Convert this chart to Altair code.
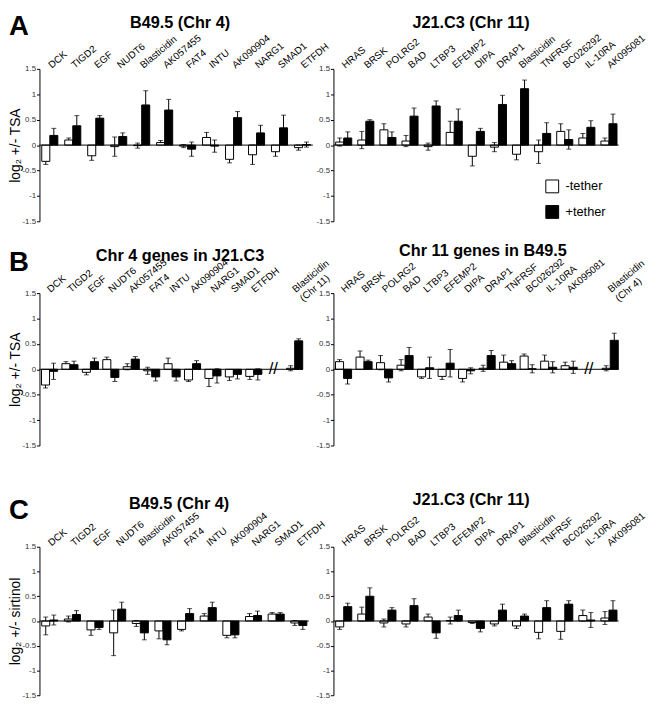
import altair as alt
import pandas as pd

FONT = "Liberation Sans"
TETHER = ["-tether", "+tether"]
YTICKS = [-1.5, -1, -0.5, 0, 0.5, 1, 1.5]

# ---- Panel A (TSA), B49.5 (Chr 4)
a_left_genes = ["DCK", "TIGD2", "EGF", "NUDT6", "Blasticidin", "AK057455", "FAT4", "INTU",
                "AK090904", "NARG1", "SMAD1", "ETFDH"]
a_left_minus = [-0.32, 0.10, -0.21, -0.03, -0.01, 0.05, -0.02, 0.15, -0.28, -0.19, -0.13, -0.05]
a_left_minus_err = [0.06, 0.04, 0.09, 0.19, 0.05, 0.04, 0.03, 0.10, 0.07, 0.19, 0.09, 0.05]
a_left_plus = [0.19, 0.38, 0.53, 0.17, 0.79, 0.69, -0.08, -0.02, 0.54, 0.24, 0.34, 0.01]
a_left_plus_err = [0.14, 0.20, 0.05, 0.07, 0.28, 0.21, 0.14, 0.12, 0.12, 0.15, 0.25, 0.05]

# ---- Panel A (TSA), J21.C3 (Chr 11)
a_right_genes = ["HRAS", "BRSK", "POLRG2", "BAD", "LTBP3", "EFEMP2", "DIPA", "DRAP1",
                 "Blasticidin", "TNFRSF", "BC026292", "IL-10RA", "AK095081"]
a_right_minus = [0.06, 0.10, 0.30, 0.08, -0.03, 0.25, -0.22, -0.04, -0.18, -0.13, 0.27, 0.14, 0.08]
a_right_minus_err = [0.08, 0.17, 0.12, 0.11, 0.07, 0.22, 0.19, 0.09, 0.11, 0.23, 0.15, 0.09, 0.06]
a_right_plus = [0.14, 0.47, 0.15, 0.57, 0.77, 0.47, 0.27, 0.80, 1.11, 0.23, 0.11, 0.35, 0.42]
a_right_plus_err = [0.12, 0.03, 0.11, 0.16, 0.10, 0.24, 0.06, 0.18, 0.17, 0.21, 0.19, 0.13, 0.19]

# ---- Panel B, Chr 4 genes in J21.C3
b_left_genes = ["DCK", "TIGD2", "EGF", "NUDT6", "AK057455", "FAT4", "INTU", "AK090904",
                "NARG1", "SMAD1", "ETFDH", "Blasticidin|(Chr 11)"]
b_left_minus = [-0.31, 0.11, -0.06, 0.19, 0.05, -0.03, 0.11, -0.21, -0.18, -0.15, -0.14, 0.02]
b_left_minus_err = [0.06, 0.04, 0.05, 0.05, 0.06, 0.07, 0.11, 0.03, 0.16, 0.07, 0.06, 0.05]
b_left_plus = [-0.04, 0.09, 0.15, -0.16, 0.20, -0.15, -0.15, 0.11, -0.13, -0.10, -0.10, 0.56]
b_left_plus_err = [0.16, 0.07, 0.07, 0.08, 0.05, 0.08, 0.08, 0.06, 0.14, 0.09, 0.11, 0.04]

# ---- Panel B, Chr 11 genes in B49.5
b_right_genes = ["HRAS", "BRSK", "POLRG2", "BAD", "LTBP3", "EFEMP2", "DIPA", "DRAP1",
                 "TNFRSF", "BC026292", "IL-10RA", "AK095081", "Blasticidin|(Chr 4)"]
b_right_minus = [0.15, 0.24, 0.13, 0.08, -0.15, -0.14, -0.18, 0.02, 0.14, 0.26, 0.16, 0.07, 0.02]
b_right_minus_err = [0.04, 0.12, 0.14, 0.11, 0.03, 0.06, 0.07, 0.06, 0.14, 0.04, 0.12, 0.07, 0.05]
b_right_plus = [-0.18, 0.15, -0.17, 0.27, 0.03, 0.12, -0.03, 0.27, 0.11, 0.01, 0.04, 0.04, 0.57]
b_right_plus_err = [0.11, 0.03, 0.08, 0.16, 0.21, 0.27, 0.06, 0.10, 0.06, 0.08, 0.11, 0.12, 0.14]

# ---- Panel C (sirtinol), B49.5 (Chr 4)
c_left_genes = a_left_genes
c_left_minus = [-0.10, 0.04, -0.18, -0.24, -0.05, -0.20, -0.17, 0.10, -0.29, 0.09, 0.14, -0.04]
c_left_minus_err = [0.18, 0.06, 0.11, 0.46, 0.06, 0.16, 0.03, 0.05, 0.05, 0.06, 0.03, 0.05]
c_left_plus = [0.02, 0.13, -0.13, 0.24, -0.24, -0.38, 0.15, 0.27, -0.28, 0.11, 0.14, -0.09]
c_left_plus_err = [0.10, 0.08, 0.04, 0.14, 0.14, 0.10, 0.10, 0.11, 0.06, 0.09, 0.03, 0.08]

# ---- Panel C (sirtinol), J21.C3 (Chr 11)
c_right_genes = a_right_genes
c_right_minus = [-0.12, 0.14, -0.04, -0.06, 0.08, 0.01, -0.03, -0.06, -0.10, -0.23, -0.21, 0.11, 0.06]
c_right_minus_err = [0.05, 0.14, 0.08, 0.06, 0.06, 0.07, 0.02, 0.04, 0.05, 0.13, 0.16, 0.11, 0.13]
c_right_plus = [0.29, 0.50, 0.22, 0.31, -0.24, 0.11, -0.15, 0.22, 0.10, 0.27, 0.34, 0.02, 0.22]
c_right_plus_err = [0.07, 0.17, 0.05, 0.14, 0.11, 0.11, 0.07, 0.12, 0.04, 0.14, 0.07, 0.15, 0.19]


def make_df(genes, mv, me, pv, pe):
    rows = []
    for g, a, b, c, d in zip(genes, mv, me, pv, pe):
        rows.append({"gene": g, "tether": "-tether", "value": a, "lo": a - b, "hi": a + b})
        rows.append({"gene": g, "tether": "+tether", "value": c, "lo": c - d, "hi": c + d})
    return pd.DataFrame(rows)


LEGEND = alt.Legend(orient="none", legendX=514, legendY=112, title=None, symbolType="square",
                    symbolSize=170, symbolStrokeColor="black", symbolStrokeWidth=1,
                    labelFontSize=13, labelFont=FONT, labelColor="black", rowPadding=7,
                    labelOffset=6, padding=0)


def text_layer(txt, x, y, size, weight="normal", align="left"):
    return (alt.Chart(pd.DataFrame({"t": [txt]}))
            .mark_text(fontSize=size, fontWeight=weight, align=align, baseline="alphabetic",
                       color="black", font=FONT)
            .encode(text="t:N", x=alt.value(x), y=alt.value(y)))


def panel(df, domain, width, plot_h, title, title_dx, title_y, ytitle=None, letter=None,
          letter_y=0, inset=0, brk=False):
    height = plot_h + inset
    yscale = alt.Scale(domain=[-1.5, 1.5], nice=False, zero=False, range=[height, inset])
    xscale = alt.Scale(domain=domain, paddingInner=0.3, paddingOuter=0.1)
    xoff = alt.XOffset("tether:N", sort=TETHER,
                       scale=alt.Scale(domain=TETHER, paddingInner=0, paddingOuter=0))
    x_axis = alt.Axis(orient="top", labelAngle=-40, labelAlign="left", labelBaseline="middle",
                      domain=False, ticks=False, labelPadding=3, labelFontSize=10,
                      labelLimit=0, labelOverlap=False, labelColor="black",
                      labelExpr="datum.label == 'gap' ? '' : split(datum.label, '|')",
                      title=None, offset=-inset)
    ykw = dict(values=YTICKS, grid=False, labelFontSize=8, labelColor="#333",
               domainColor="black", tickColor="black", tickSize=3, labelPadding=1,
               labelExpr="datum.value < 0 ? '-' + format(-datum.value, '') : format(datum.value, '')")
    if ytitle:
        ykw.update(title=ytitle, titleFontSize=14, titleFontWeight="normal",
                   titleColor="black", titlePadding=0)
    else:
        ykw.update(title=None)
    y_axis = alt.Axis(**ykw)

    def X():
        return alt.X("gene:N", scale=xscale, axis=x_axis)

    def Y(field):
        return alt.Y(field, scale=yscale, axis=y_axis)

    base = alt.Chart(df)
    err = base.mark_rule(color="black", strokeWidth=1).encode(
        x=X(), xOffset=xoff, y=Y("lo:Q"), y2="hi:Q")
    cap_hi = base.mark_tick(color="black", thickness=1, size=5).encode(
        x=X(), xOffset=xoff, y=Y("hi:Q"))
    cap_lo = base.mark_tick(color="black", thickness=1, size=5).encode(
        x=X(), xOffset=xoff, y=Y("lo:Q"))
    bars = base.mark_bar(stroke="black", strokeWidth=1).encode(
        x=X(),
        xOffset=xoff,
        y=Y("value:Q"),
        y2=alt.datum(0),
        fill=alt.Fill("tether:N", scale=alt.Scale(domain=TETHER, range=["white", "black"]),
                      legend=LEGEND),
    )
    zero = alt.Chart(pd.DataFrame({"z": [0.0]})).mark_rule(color="black", strokeWidth=1).encode(
        y=Y("z:Q"))
    layers = [err, cap_hi, cap_lo, bars, zero]
    if brk:
        layers.append(
            alt.Chart(pd.DataFrame({"gene": ["gap"], "v": [0.0], "t": ["//"]}))
            .mark_text(fontSize=17, align="center", baseline="middle", color="black")
            .encode(x=X(), y=Y("v:Q"), text="t:N"))
    layers.append(text_layer(title, width / 2 + title_dx, inset + title_y, 16.5, "bold", "center"))
    if letter:
        layers.append(text_layer(letter, -31, inset + letter_y, 28, "bold", "left"))
    return alt.layer(*layers).properties(width=width, height=height)


H = 155
HC = 151
CI = 30
WR = 290

pA_l = panel(make_df(a_left_genes, a_left_minus, a_left_minus_err, a_left_plus, a_left_plus_err),
             a_left_genes, 278, H, "B49.5 (Chr 4)", 4, -42, ytitle="log₂ +/- TSA", letter="A",
             letter_y=-34)
pA_r = panel(make_df(a_right_genes, a_right_minus, a_right_minus_err, a_right_plus, a_right_plus_err),
             a_right_genes, WR, H, "J21.C3 (Chr 11)", -5, -42)

b_left_dom = b_left_genes[:-1] + ["gap"] + b_left_genes[-1:]
b_right_dom = b_right_genes[:-1] + ["gap"] + b_right_genes[-1:]
pB_l = panel(make_df(b_left_genes, b_left_minus, b_left_minus_err, b_left_plus, b_left_plus_err),
             b_left_dom, 268, H, "Chr 4 genes in J21.C3", 9, -33, ytitle="log₂ +/- TSA",
             letter="B", letter_y=-22, brk=True)
pB_r = panel(make_df(b_right_genes, b_right_minus, b_right_minus_err, b_right_plus, b_right_plus_err),
             b_right_dom, WR, H, "Chr 11 genes in B49.5", 7, -38, brk=True)

pC_l = panel(make_df(c_left_genes, c_left_minus, c_left_minus_err, c_left_plus, c_left_plus_err),
             c_left_genes, 274, HC, "B49.5 (Chr 4)", 5, -38, ytitle="log₂ +/- sirtinol",
             letter="C", letter_y=-28, inset=CI)
pC_r = panel(make_df(c_right_genes, c_right_minus, c_right_minus_err, c_right_plus, c_right_plus_err),
             c_right_genes, WR, HC, "J21.C3 (Chr 11)", -5, -42, inset=CI)

chart = alt.concat(pA_l, pA_r, pB_l, pB_r, pC_l, pC_r, columns=2,
                   spacing={"row": 73, "column": 21}, bounds="flush", align="each")
chart = chart.properties(padding={"left": 0, "top": 0, "right": 0, "bottom": 0}).configure(
    font=FONT).configure_view(stroke=None)

chart.save("out.html", embed_options={"renderer": "svg", "actions": False})
